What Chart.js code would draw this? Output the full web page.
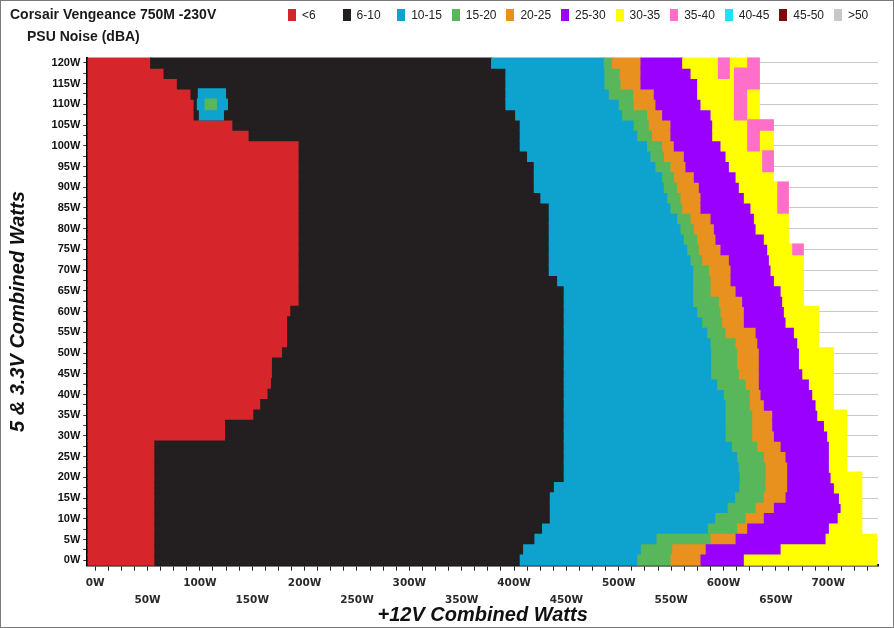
<!DOCTYPE html>
<html>
<head>
<meta charset="utf-8">
<title>Corsair Vengeance 750M -230V PSU Noise</title>
<script src="https://cdn.jsdelivr.net/npm/chart.js@4.4.1/dist/chart.umd.min.js"></script>
<style>
  body { margin: 0; background: #fff; }
  #frame { position: relative; width: 892px; height: 626px; border: 1px solid #7a7a7a; }
  #chart { position: absolute; left: 0; top: 0; }
  .title { position: absolute; font: bold 14px "Liberation Sans", Arial, sans-serif; color: #1a1a1a; white-space: nowrap; line-height: 16px; }
  #legend { position: absolute; left: 287px; top: 7px; display: flex; font: 12px "Liberation Sans", Arial, sans-serif; color: #222; }
  #legend .item { width: 54.6px; display: flex; align-items: center; white-space: nowrap; }
  #legend .box { width: 8px; height: 12px; margin-right: 6px; }
</style>
</head>
<body>
<div id="frame">
  <canvas id="chart" width="892" height="626"></canvas>
  <div class="title" style="left: 9px; top: 5px;">Corsair Vengeance 750M -230V</div>
  <div class="title" style="left: 26px; top: 27px;">PSU Noise (dBA)</div>
  <div id="legend"></div>
</div>
<script>
// noise bands (dBA) and their colours
const bandLabels = ['<6', '6-10', '10-15', '15-20', '20-25', '25-30', '30-35', '35-40', '40-45', '45-50', '>50'];
const bandColors = ['#d7262b', '#231f20', '#0ea3cf', '#58b65b', '#e8911f', '#9900ff', '#ffff00', '#ff6fc9', '#1fe3f2', '#7b0a0a', '#c8c8c8'];

// 5V & 3.3V combined load (rows of the map), bottom to top
const rowWatts = [0, 2.5, 5, 7.5, 10, 12.5, 15, 17.5, 20, 22.5, 25, 27.5, 30, 32.5, 35, 37.5, 40, 42.5, 45, 47.5,
  50, 52.5, 55, 57.5, 60, 62.5, 65, 67.5, 70, 72.5, 75, 77.5, 80, 82.5, 85, 87.5, 90, 92.5, 95, 97.5,
  100, 102.5, 105, 107.5, 110, 112.5, 115, 117.5, 120];

// +12V watts where each band ends, one value per row
const redEnd = [56.5, 56.5, 56.5, 56.5, 56.5, 56.5, 56.5, 56.5, 56.5, 56.5, 56.5, 56.5, 124, 124, 151, 157.6, 164.6, 167.8, 168.8, 168.8,
  178.4, 183.2, 183.2, 183.2, 186.3, 194.3, 194.3, 194.3, 194.3, 194.3, 194.3, 194.3, 194.3, 194.3, 194.3, 194.3, 194.3, 194.3, 194.3, 194.3,
  194.3, 146.5, 131, 94, 94, 91, 78, 65.3, 52.5];
const blackEnd = [405.4, 408.6, 419.4, 426.7, 434.1, 434.1, 434.1, 438, 447.4, 447.4, 447.4, 447.4, 447.4, 447.4, 447.4, 447.4, 447.4, 447.4, 447.4, 447.4,
  447.4, 447.4, 447.4, 447.4, 447.4, 447.4, 447.4, 441.1, 433.1, 433.1, 433.1, 433.1, 433.1, 433.1, 433.1, 425.1, 418.8, 418.8, 418.8, 412.4,
  405.4, 405.4, 405.4, 401, 391.7, 391.7, 391.7, 391.7, 378];
const blueEnd = [517.5, 521, 536, 585, 592, 604, 611, 615, 615.5, 614.5, 613, 608, 602, 602, 602, 602, 600.3, 593.9, 588.2, 588.2,
  588.2, 587.6, 584.4, 579.6, 574.8, 571, 571, 571, 571, 568.5, 565.3, 562.1, 558.9, 555.7, 549.3, 546.2, 543, 541.4, 535, 530.2,
  527, 517.5, 514.3, 503.2, 500, 490.4, 486.3, 486.3, 485.6];
const greenEnd = [549.4, 551, 587.6, 613, 621, 630.6, 638.5, 640.1, 640.1, 640.1, 638.5, 632.2, 627.4, 627.4, 627.4, 625.1, 625.1, 621, 614.6, 613,
  613, 611.5, 601.9, 598.7, 597.1, 595.5, 587.6, 587.6, 586, 579.6, 576.4, 574.8, 571.6, 568.5, 560.5, 558.9, 555.7, 552.5, 549.3, 543,
  541.4, 531.8, 528.6, 527, 514.3, 513.7, 501.6, 500.9, 493.6];
const orangeEnd = [578, 583, 611.5, 622.6, 638.5, 648.1, 659.2, 660.8, 660.8, 660.8, 659.2, 654.5, 648.1, 646.5, 646.5, 638.5, 635.3, 633.7, 633.7, 633.7,
  633.7, 632.2, 630.6, 619.4, 619.4, 617.8, 611.5, 606.7, 606.7, 605.1, 597.1, 592.3, 590.8, 587.6, 578, 578, 576.4, 571.6, 563.7, 562.1,
  552.5, 549.3, 549.3, 541.4, 535, 533.4, 520.7, 520.7, 520.7];
const purpleEnd = [619.4, 654.5, 697.4, 700.6, 709, 711.8, 710.2, 705.4, 702.2, 700.6, 700.6, 700.6, 699, 695.9, 689.5, 687.9, 684.7, 681.5, 675.2, 672,
  672, 670.4, 667.2, 659.2, 657.6, 656, 654.5, 648.1, 644.9, 643.3, 641.7, 638.5, 630.6, 629, 625.7, 619.4, 614.6, 611.5, 605.1, 601.9,
  597.1, 589.2, 589.2, 587.6, 578, 574.8, 574.8, 568.5, 560.5];
const yellowEnd = [746.8, 746.8, 746.8, 732.5, 732.5, 732.5, 732.5, 732.5, 732.5, 718.1, 718.1, 718.1, 718.1, 718.1, 718.1, 705.4, 705.4, 705.4, 705.4, 705.4,
  705.4, 691.1, 691.1, 691.1, 691.1, 676.7, 676.7, 676.7, 676.7, 676.7, 676.7, 662.4, 662.4, 662.4, 662.4, 662.4, 662.4, 648.1, 648.1, 648.1,
  648.1, 648.1, 648.1, 634.7, 634.7, 634.7, 634.7, 634.7, 634.7];

// 35-40 dBA patches inside the yellow band: [row, from, to]
const pinkCells = [[120, 594.6, 606], [120, 622.6, 634.7], [117.5, 594.6, 606], [117.5, 609.9, 634.7], [115, 609.9, 634.7],
  [112.5, 609.9, 622.6], [110, 609.9, 622.6], [107.5, 609.9, 622.6], [105, 622.6, 648.1], [102.5, 622.6, 634.7], [100, 622.6, 634.7],
  [97.5, 636.9, 648.1], [95, 636.9, 648.1], [90, 651.3, 662.4], [87.5, 651.3, 662.4], [85, 651.3, 662.4], [75, 665.6, 676.7]];

// small louder spot inside the 6-10 area
const spotBlue = [[107.5, 99, 123], [110, 97.1, 126.8], [112.5, 98, 125]];
const spotGreen = [[110, 104.5, 116.3]];

const xMin = -7.5;
const xMax = 747.5;
const seam = 1.2; // bands run a little under their right neighbour so no white hairline shows

function rowSpans(starts, ends, overlap) {
    return rowWatts.map((w, i) => ({ y: w, x: [starts[i], ends[i] + overlap] }));
}

function cellSpans(cells) {
    return cells.map(c => ({ y: c[0], x: [c[1], c[2]] }));
}

const leftEdge = rowWatts.map(() => xMin);
const bandData = [
    rowSpans(leftEdge, redEnd, seam),
    rowSpans(redEnd, blackEnd, seam),
    rowSpans(blackEnd, blueEnd, seam),
    rowSpans(blueEnd, greenEnd, seam),
    rowSpans(greenEnd, orangeEnd, seam),
    rowSpans(orangeEnd, purpleEnd, seam),
    rowSpans(purpleEnd, yellowEnd, 0),
    cellSpans(pinkCells),
    [], [], []
];

// higher order is drawn first, so each band sits on top of the one to its left
const datasets = bandLabels.map((label, i) => ({
    label: label,
    data: bandData[i],
    backgroundColor: bandColors[i],
    order: 20 - i
}));
datasets.push({ label: 'spot', data: cellSpans(spotBlue), backgroundColor: bandColors[2], order: 2 });
datasets.push({ label: 'spot', data: cellSpans(spotGreen), backgroundColor: bandColors[3], order: 1 });

// legend drawn as html so it can sit beside the title
const htmlLegend = {
    id: 'htmlLegend',
    afterUpdate(chart) {
        const box = document.getElementById('legend');
        box.innerHTML = '';
        const items = chart.options.plugins.legend.labels.generateLabels(chart)
            .filter(item => item.datasetIndex < bandLabels.length)
            .sort((a, b) => a.datasetIndex - b.datasetIndex);
        items.forEach(item => {
            const el = document.createElement('div');
            el.className = 'item';
            const sw = document.createElement('span');
            sw.className = 'box';
            sw.style.background = item.fillStyle;
            el.appendChild(sw);
            el.appendChild(document.createTextNode(item.text));
            box.appendChild(el);
        });
    }
};

const ctx = document.getElementById('chart').getContext('2d');
new Chart(ctx, {
    type: 'bar',
    data: { datasets: datasets },
    plugins: [htmlLegend],
    options: {
        responsive: false,
        animation: false,
        indexAxis: 'y',
        layout: { padding: { top: 56.5, right: 15, bottom: 0, left: 0 } },
        datasets: {
            bar: { grouped: false, barPercentage: 1.12, categoryPercentage: 1, borderWidth: 0 }
        },
        plugins: {
            legend: { display: false },
            tooltip: { enabled: false }
        },
        scales: {
            x: {
                type: 'linear',
                min: xMin,
                max: xMax,
                afterFit: s => { s.height = 61.3; },
                border: { color: '#000', width: 2.5 },
                grid: { drawOnChartArea: false, tickLength: 5, tickColor: '#222' },
                ticks: {
                    stepSize: 12.5,
                    includeBounds: false,
                    autoSkip: false,
                    maxRotation: 0,
                    padding: 4,
                    color: '#2a2a2a',
                    font: { family: 'DejaVu Sans', size: 10.5, weight: 'bold', lineHeight: 1.62 },
                    callback: v => {
                        if (v % 100 === 0) return v + 'W';
                        if (v % 50 === 0) return ['', v + 'W'];
                        return '';
                    }
                },
                title: {
                    display: true,
                    text: '+12V Combined Watts',
                    color: '#111',
                    padding: 0,
                    font: { family: 'Liberation Sans', size: 20, weight: 'bold', style: 'italic' }
                }
            },
            y: {
                type: 'linear',
                min: -1.3,
                max: 121.3,
                offset: false,
                afterFit: s => { s.width = 86.3; },
                border: { color: '#000', width: 2 },
                grid: {
                    offset: false,
                    z: -1,
                    tickLength: 4,
                    tickColor: '#333',
                    color: c => (c.tick && c.tick.value % 5 === 0) ? '#c9c9c9' : 'rgba(0,0,0,0)'
                },
                ticks: {
                    stepSize: 2.5,
                    includeBounds: false,
                    autoSkip: false,
                    padding: 3,
                    color: '#111',
                    font: { family: 'Liberation Sans', size: 11, weight: 'bold' },
                    callback: v => v % 5 === 0 ? v + 'W' : ''
                },
                title: {
                    display: true,
                    text: '5 & 3.3V Combined Watts',
                    color: '#111',
                    padding: { top: 5, bottom: 0 },
                    font: { family: 'Liberation Sans', size: 20, weight: 'bold', style: 'italic' }
                }
            }
        }
    }
});
</script>
</body>
</html>
